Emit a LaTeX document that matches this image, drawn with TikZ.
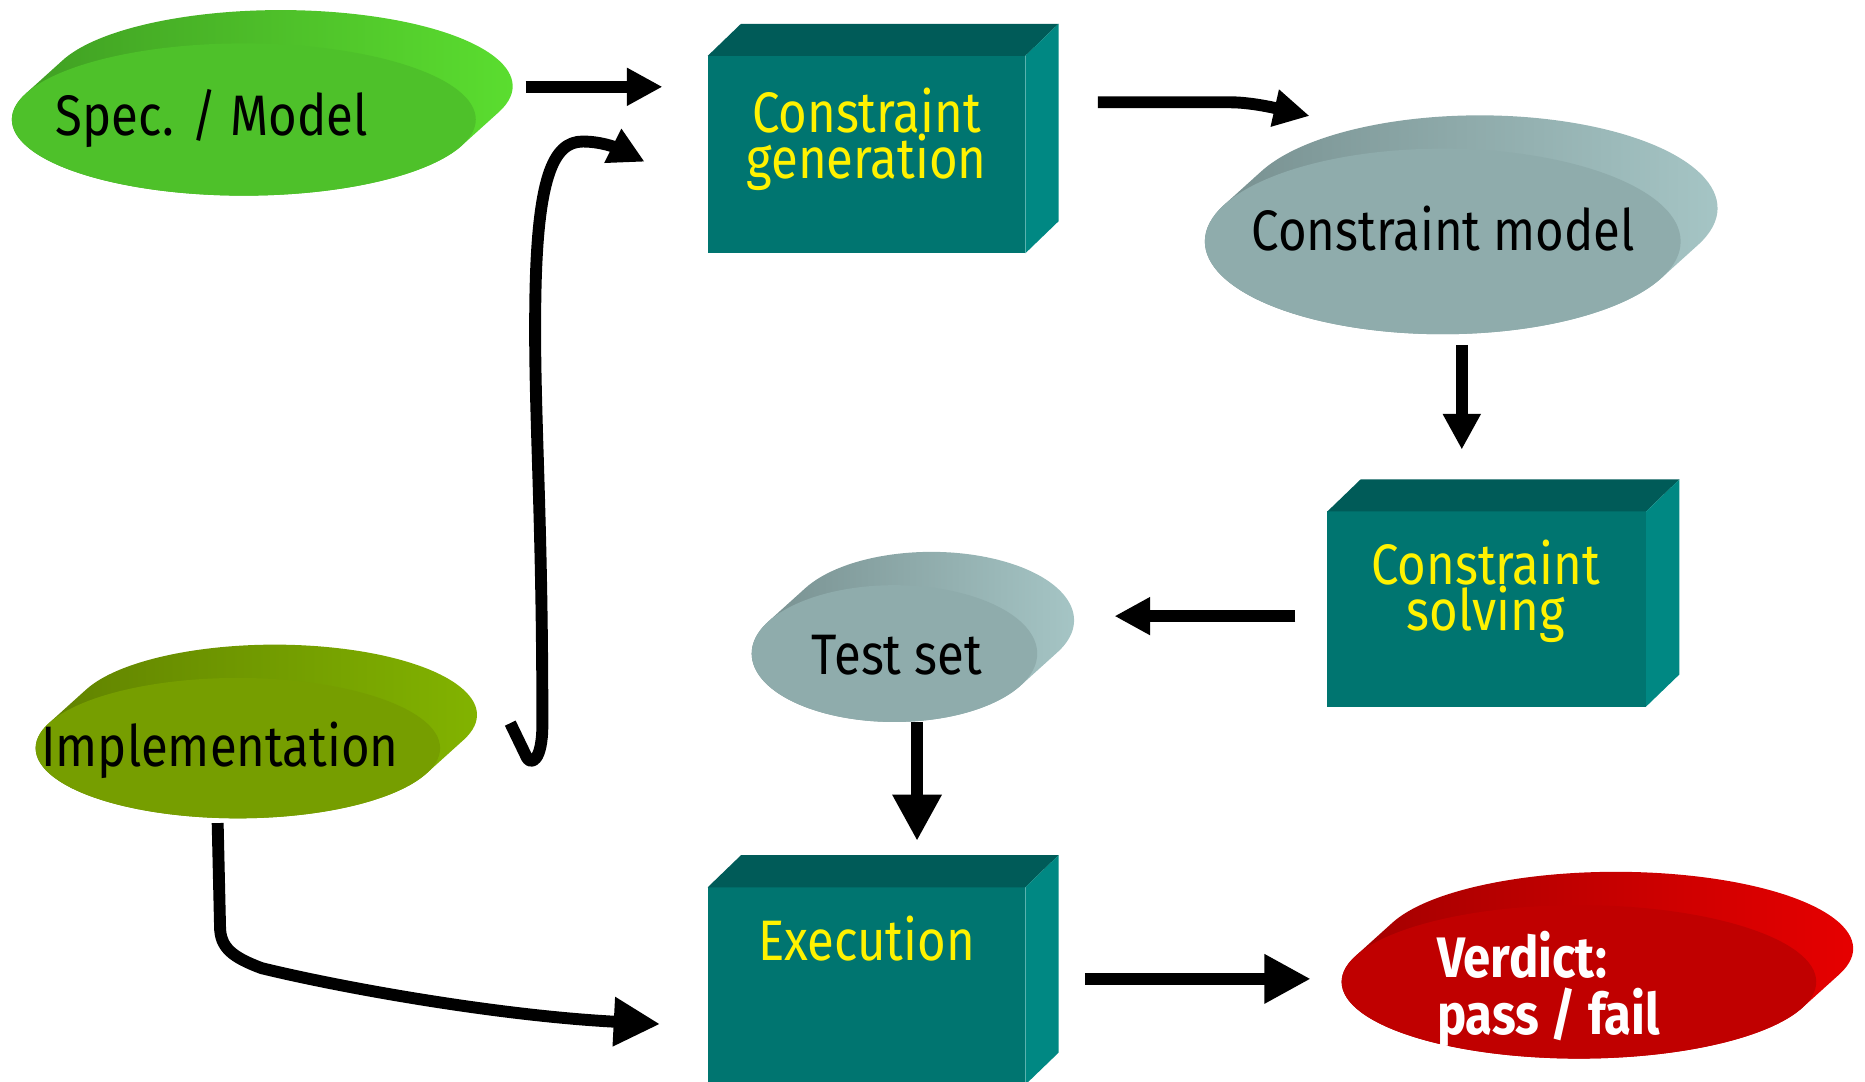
\documentclass[tikz,border=0pt]{standalone}
\usepackage{fontspec}
\setmainfont{Fira Sans}[FakeStretch=0.86]
\usetikzlibrary{arrows.meta,shapes.geometric,calc,backgrounds}

\definecolor{specFront}{RGB}{78,193,42}
\definecolor{specSide}{RGB}{62,154,34}
\definecolor{specLight}{RGB}{92,225,48}
\definecolor{implFront}{RGB}{118,158,0}
\definecolor{implSide}{RGB}{94,126,0}
\definecolor{implLight}{RGB}{132,182,0}
\definecolor{modelFront}{RGB}{143,172,172}
\definecolor{modelSide}{RGB}{116,140,140}
\definecolor{modelLight}{RGB}{168,200,200}
\definecolor{verdictFront}{RGB}{192,0,0}
\definecolor{verdictSide}{RGB}{158,0,0}
\definecolor{verdictLight}{RGB}{234,0,0}
\definecolor{boxFront}{RGB}{0,117,112}
\definecolor{boxTop}{RGB}{0,91,88}
\definecolor{boxRight}{RGB}{0,136,131}

\begin{document}
\begin{tikzpicture}[x=1pt, y=1pt,
    >={Triangle[length=30pt, width=30pt]},
    flow/.style={line width=10pt, ->},
    bigflow/.style={line width=10pt, -{Triangle[length=39pt, width=39pt]}},
    disc/.style={ellipse, inner sep=0pt, outer sep=0pt},
    cube/.style={rectangle, fill=boxFront, inner sep=0pt, outer sep=0pt,
        minimum width=267pt, minimum height=166pt},
    disctext/.style={font=\fontsize{48}{52}\selectfont, inner sep=0pt},
    cubetext/.style={font=\fontsize{48}{35}\selectfont, text=yellow,
        align=center, inner sep=0pt}]

    \useasboundingbox (0,0) rectangle (1568,909);

    % boxes
    \node[cube] (gen) at (728.5,779) {};
    \node[cube, minimum width=268pt, minimum height=164pt] (solve) at (1250,397) {};
    \node[cube] (exec) at (728.5,80) {};
    \foreach \b in {gen, solve, exec}{
        \fill[boxTop] (\b.north west) -- ++(28,27)
            -- ([shift={(28,27)}]\b.north east) -- (\b.north east) -- cycle;
        \fill[boxRight] (\b.north east) -- ++(28,27)
            -- ([shift={(28,27)}]\b.south east) -- (\b.south east) -- cycle;
    }

    \node[cubetext] (genText) at ([yshift=13pt]gen.center) {Constraint\\generation};
    \node[cubetext] (solveText) at ([shift={(-1,15)}]solve.center) {Constraint\\solving};
    \node[cubetext] (execText) at ([yshift=39.5pt]exec.center) {Execution};

    % discs
    \node[disc, fill=specFront, minimum width=390pt, minimum height=128pt]
        (spec) at (205,808.5) {};
    \node[disc, fill=implFront, minimum width=340pt, minimum height=118pt]
        (impl) at (200,280) {};
    \node[disc, fill=modelFront, minimum width=400pt, minimum height=156pt]
        (cmodel) at (1213,706) {};
    \node[disc, fill=modelFront, minimum width=240pt, minimum height=115pt]
        (tests) at (752,359.5) {};
    \node[disc, fill=verdictFront, minimum width=399pt, minimum height=129pt]
        (verdict) at (1327.5,83.5) {};

    % disc sides
    \begin{pgfonlayer}{background}
    \foreach \n/\rx/\ry/\cs/\cl in {spec/195/64/specSide/specLight,
            impl/170/59/implSide/implLight,
            cmodel/200/78/modelSide/modelLight,
            tests/120/57.5/modelSide/modelLight,
            verdict/199.5/64.5/verdictSide/verdictLight}{
        \pgfmathsetmacro\ta{atan2(-\ry*31, \rx*28)}
        \pgfmathsetmacro\tb{\ta+180}
        \pgfmathsetmacro\tc{\ta+360}
        \shade[left color=\cs, middle color=\cs, right color=\cl]
            ($(\n.center)+(\tb:\rx pt and \ry pt)$)
            arc[start angle=\tb, end angle=\tc, x radius=\rx pt, y radius=\ry pt]
            -- ++(31,28)
            arc[start angle=\ta, end angle=\tb, x radius=\rx pt, y radius=\ry pt]
            -- cycle;
    }
    \end{pgfonlayer}

    \node[disctext] (specText) at ([shift={(-27,0.5)}]spec.center) {Spec. / Model};
    \node[disctext] (implText) at ([shift={(-15,-2)}]impl.center) {Implementation};
    \node[disctext] (cmodelText) at ([shift={(0.5,10.5)}]cmodel.center) {Constraint model};
    \node[disctext] (testsText) at ([shift={(2,-1)}]tests.center) {Test set};
    \node[disctext, text=white, align=left, anchor=west,
        font=\fontsize{48}{48}\selectfont\bfseries]
        (verdictText) at ([shift={(-119.5,-6.5)}]verdict.center) {Verdict:\\pass / fail};

    % arrows
    \draw[flow] ([shift={(42,27.5)}]spec.east) -- ([shift={(-38,57)}]gen.west);
    \draw[flow] ([shift={(61,44)}]gen.east) -- ++(111,0)
        .. controls +(21,0) and +(-20,4.5) .. ([shift={(-112,27.5)}]cmodel.north);
    \draw[flow] ([shift={(16,-9)}]cmodel.south) -- ([shift={(-21,52)}]solve.north);
    \draw[flow] ([shift={(-27,-6)}]solve.west) -- ([shift={(65,31.5)}]tests.east);
    \draw[bigflow] ([shift={(19,0)}]tests.south) -- ([shift={(42.5,39)}]exec.north);
    \draw[bigflow] ([shift={(50,6)}]exec.east) -- ([shift={(-26,2.5)}]verdict.west);

    % implementation feeds generation and execution
    \draw[flow, line join=round] ([shift={(59,21)}]impl.east) -- (443,272)
        .. controls (446,266) and (456,268) .. (456,300)
        .. controls (456,480) and (449,560) .. (450,650)
        .. controls (451,760) and (465,790) .. (490,790)
        .. controls (508,790) and (522,783) .. ([shift={(-53,-6)}]gen.west);
    \draw[bigflow] ([shift={(-17,-4)}]impl.south) -- (185,130)
        .. controls (185,112) and (196,104) .. (220,95)
        .. controls (290,78) and (420,55) .. ([shift={(-40,-32)}]exec.west);
\end{tikzpicture}
\end{document}
